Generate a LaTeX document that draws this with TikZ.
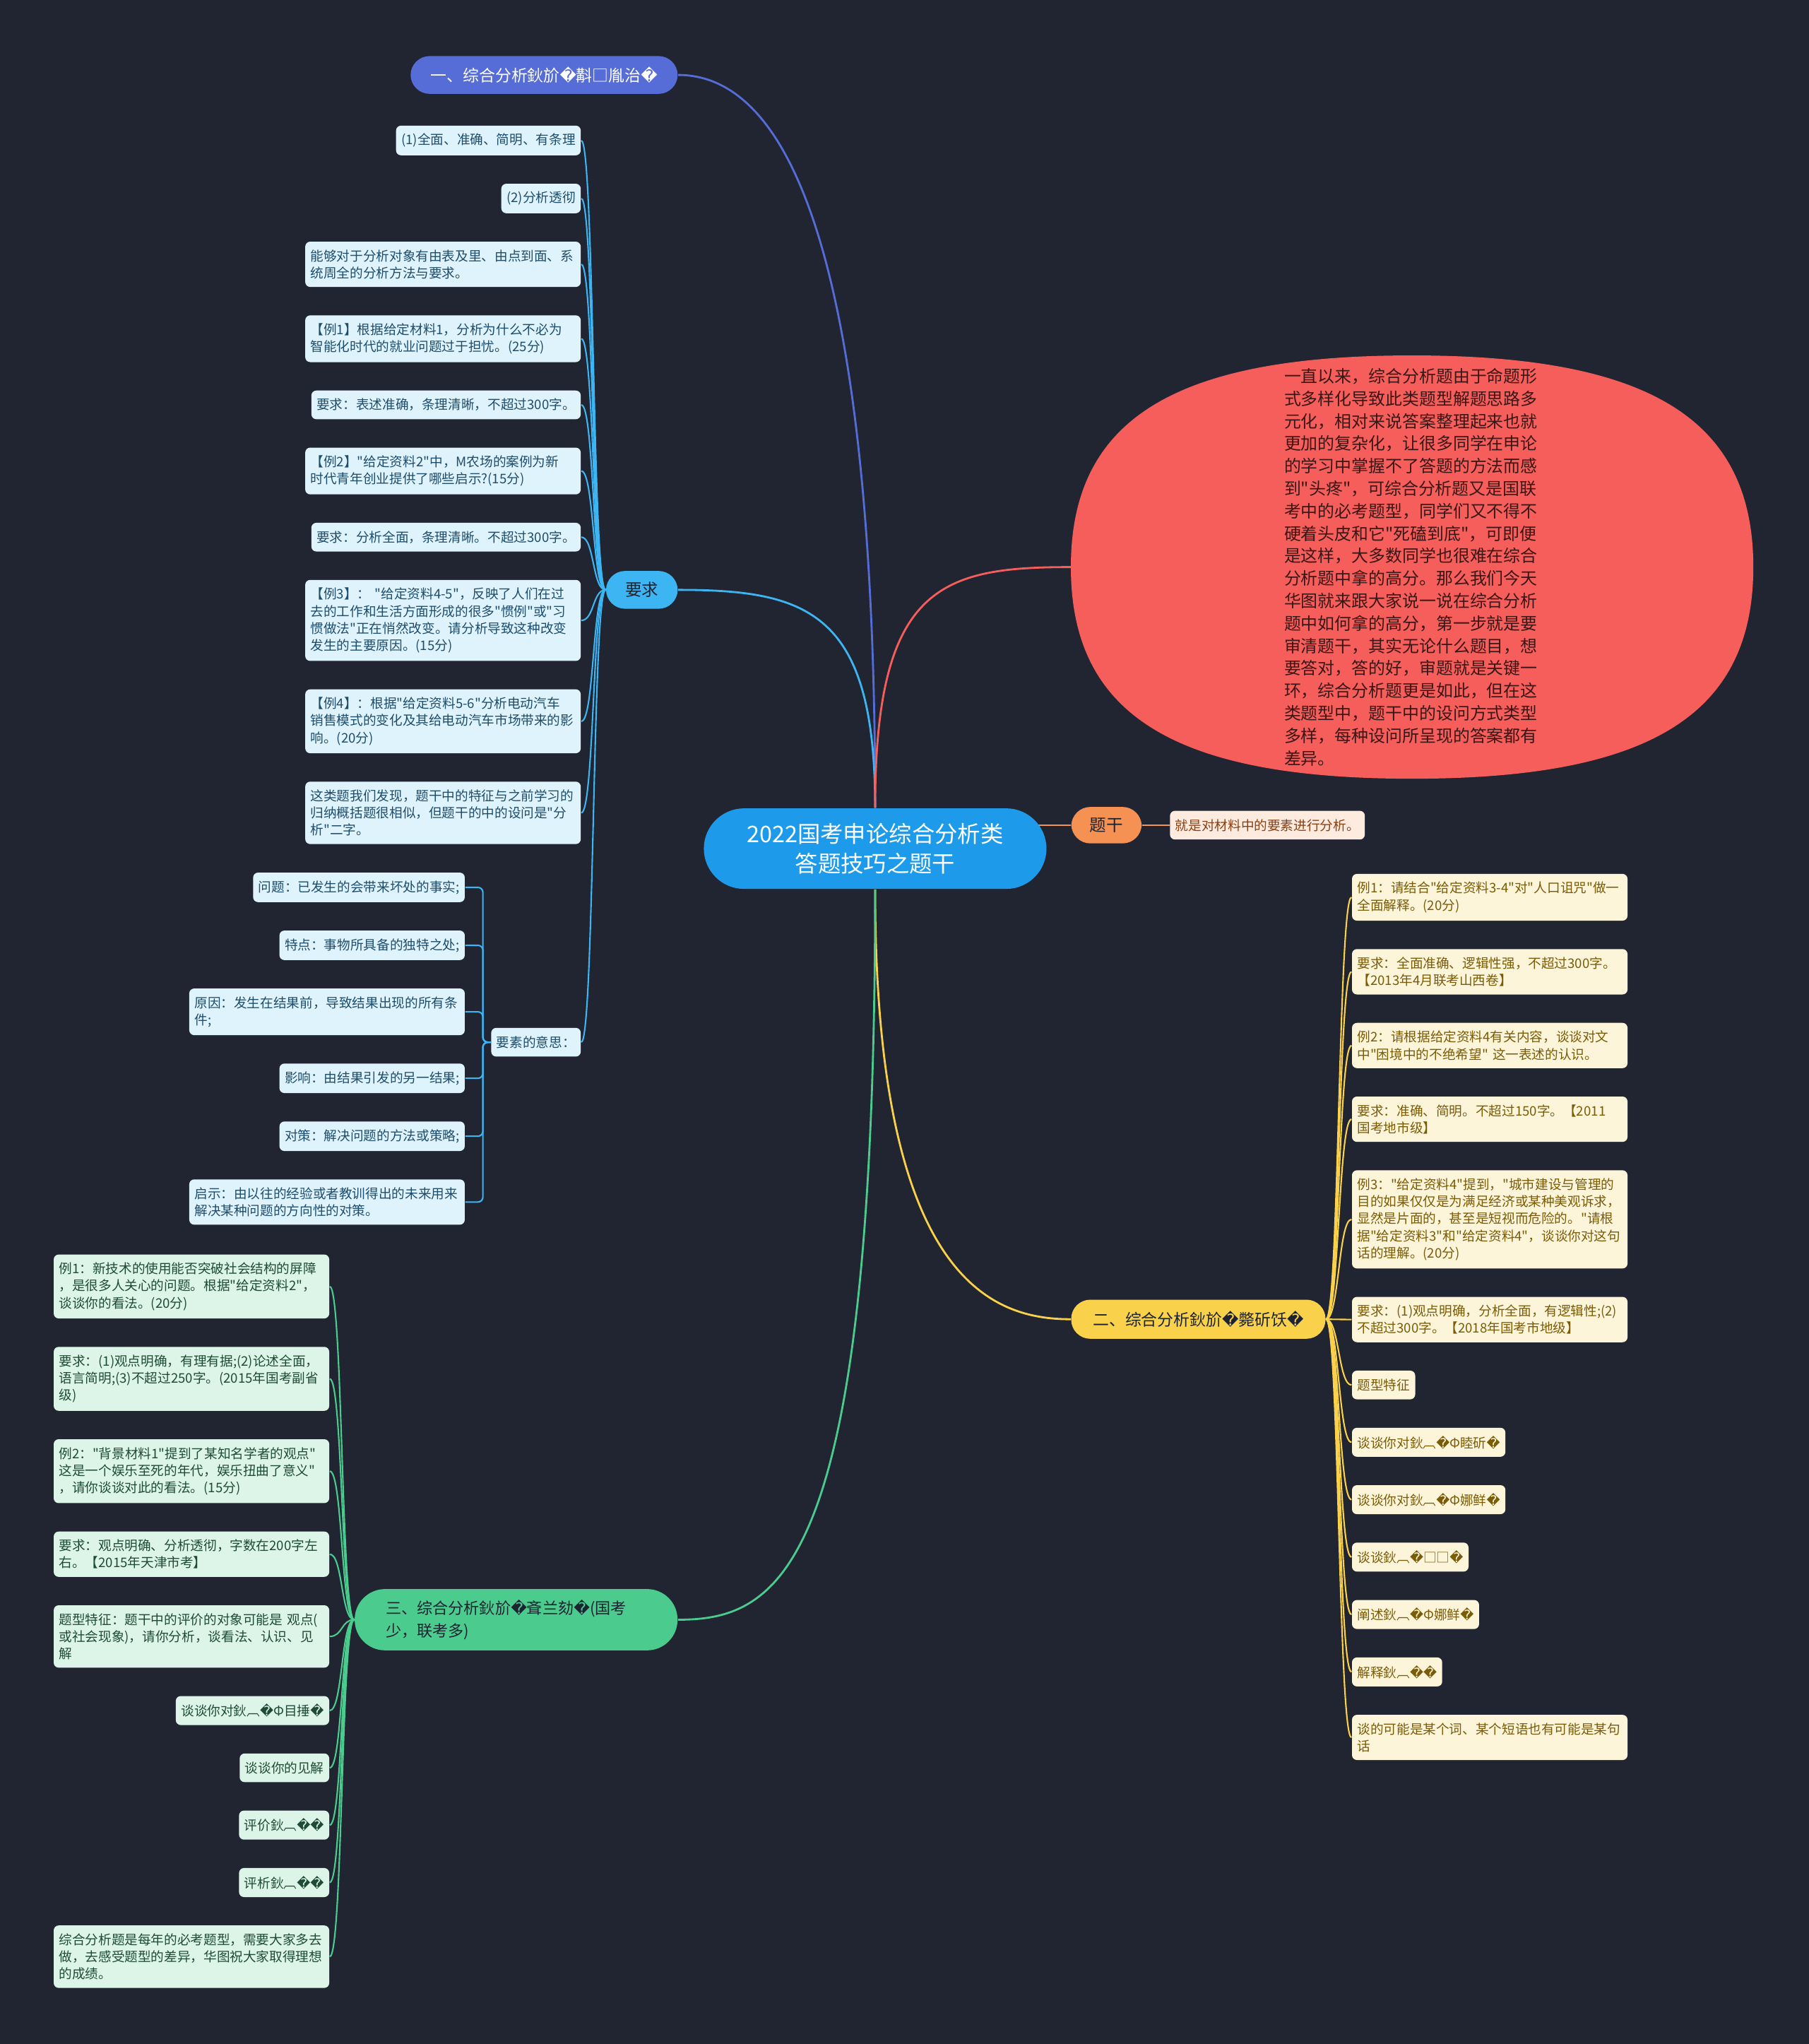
\documentclass[tikz,border=0pt]{standalone}
\usepackage{fontspec}
\setmainfont{Noto Sans CJK SC}[Ligatures=TeXOff]
\newfontfamily\djvfont{DejaVu Sans}
\newcommand{\badch}{{\djvfont\symbol{"FFFD}}}
\exhyphenpenalty=10000
\usetikzlibrary{positioning, backgrounds}
\definecolor{mmbg}{HTML}{212532}
\definecolor{mmroot}{HTML}{1D9BEA}
\definecolor{mmindigo}{HTML}{566CD6}
\definecolor{mmsky}{HTML}{3DB5F2}
\definecolor{mmskyfill}{HTML}{DEF3FC}
\definecolor{mmskytext}{HTML}{1E4D6B}
\definecolor{mmred}{HTML}{F55E5A}
\definecolor{mmredtext}{HTML}{3A1616}
\definecolor{mmorange}{HTML}{F59152}
\definecolor{mmpeach}{HTML}{FDEBDF}
\definecolor{mmpeachtext}{HTML}{8A3F10}
\definecolor{mmyellow}{HTML}{F9D14A}
\definecolor{mmcream}{HTML}{FDF5DA}
\definecolor{mmcreamtext}{HTML}{7A5B06}
\definecolor{mmgreen}{HTML}{4CCB8E}
\definecolor{mmmint}{HTML}{DCF5E8}
\definecolor{mmminttext}{HTML}{1F4B35}
\definecolor{mmdark}{HTML}{1B2430}

\begin{document}
\begin{tikzpicture}[
    x=0.018444cm, y=-0.018444cm,
    pill/.style={rectangle, rounded corners=0.27cm, fill=#1, minimum height=0.535cm,
                 inner xsep=0.2cm, align=center, font=\fontsize{6.5}{8.5}\selectfont},
    item/.style={rectangle, rounded corners=2pt, fill=#1, inner xsep=0.075cm, inner ysep=3.2pt,
                 minimum height=0.406cm, align=left, font=\fontsize{5.3}{6.9}\selectfont},
    skyitem/.style={item=mmskyfill, text=mmskytext},
    creamitem/.style={item=mmcream, text=mmcreamtext},
    mintitem/.style={item=mmmint, text=mmminttext},
    wide/.style={text width=3.75cm},
    stackl/.style={below=0.388cm of #1.south east, anchor=north east},
    stackr/.style={below=0.388cm of #1.south west, anchor=north west},
    link/.style={draw=#1, line width=0.8pt},
    twig/.style={draw=#1, line width=0.6pt}
  ]
    \useasboundingbox (0,0) rectangle (1388,1568);
    \begin{scope}[on background layer]
      \fill[mmbg] (0,0) rectangle (1388,1568);
    \end{scope}

    \node[rectangle, rounded corners=0.57cm, fill=mmroot, text=white, minimum width=4.85cm,
          minimum height=1.14cm, align=center, font=\fontsize{9.2}{12}\selectfont]
          (root) at (671.5,651) {2022国考申论综合分析类\\答题技巧之题干};
    \node[pill=mmindigo, text=white, minimum width=3.78cm] (sec1) at (417.5,57.5)
          {一、综合分析鈥斺\badch 斠□胤治\badch};
    \node[pill=mmsky, text=mmdark, minimum width=1.014cm, font=\fontsize{6.7}{8}\selectfont]
          (req) at (492.5,452.5) {要求};
    \node[rectangle, text=mmredtext, minimum width=9.646cm, minimum height=5.976cm,
          text width=3.62cm, align=left, font=\fontsize{6.8}{9.05}\selectfont]
          (intro) at (1083.5,435) {一直以来，综合分析题由于命题形\\
          式多样化导致此类题型解题思路多\\
          元化，相对来说答案整理起来也就\\
          更加的复杂化，让很多同学在申论\\
          的学习中掌握不了答题的方法而感\\
          到"头疼"，可综合分析题又是国联\\
          考中的必考题型，同学们又不得不\\
          硬着头皮和它"死磕到底"，可即便\\
          是这样，大多数同学也很难在综合\\
          分析题中拿的高分。那么我们今天\\
          华图就来跟大家说一说在综合分析\\
          题中如何拿的高分，第一步就是要\\
          审清题干，其实无论什么题目，想\\
          要答对，答的好，审题就是关键一\\
          环，综合分析题更是如此，但在这\\
          类题型中，题干中的设问方式类型\\
          多样，每种设问所呈现的答案都有\\
          差异。};
    \node[pill=mmorange, text=mmdark, minimum width=0.996cm, minimum height=0.516cm,
          font=\fontsize{6.7}{8}\selectfont] (stem) at (849,633) {题干};
    \node[item=mmpeach, text=mmpeachtext, right=0.387cm of stem] (stemnote) {就是对材料中的要素进行分析。};
    \node[pill=mmyellow, text=mmdark, minimum width=3.6cm, minimum height=0.553cm]
          (sec2) at (919.5,1012) {二、综合分析鈥斺\badch 斃斫饫\badch};
    \node[pill=mmgreen, text=mmdark, rounded corners=0.43cm, minimum height=0.867cm,
          text width=3.69cm, inner xsep=0.44cm, align=left, font=\fontsize{6.3}{8.9}\selectfont]
          (sec3) at (396,1242.5) {三、综合分析鈥斺\badch 斊兰劾\badch(国考\\少，联考多)};

    \node[skyitem, anchor=north east] (r1) at (446,96) {(1)全面、准确、简明、有条理};
    \node[skyitem, stackl=r1] (r2) {(2)分析透彻};
    \node[skyitem, wide, stackl=r2] (r3) {能够对于分析对象有由表及里、由点到面、系\\统周全的分析方法与要求。};
    \node[skyitem, wide, stackl=r3] (r4) {【例1】根据给定材料1，分析为什么不必为\\智能化时代的就业问题过于担忧。(25分)};
    \node[skyitem, stackl=r4] (r5) {要求：表述准确，条理清晰，不超过300字。};
    \node[skyitem, wide, stackl=r5] (r6) {【例2】"给定资料2"中，M农场的案例为新\\时代青年创业提供了哪些启示?(15分)};
    \node[skyitem, stackl=r6] (r7) {要求：分析全面，条理清晰。不超过300字。};
    \node[skyitem, wide, stackl=r7] (r8) {【例3】：~"给定资料4-5"，反映了人们在过\\去的工作和生活方面形成的很多"惯例"或"习\\惯做法"正在悄然改变。请分析导致这种改变\\发生的主要原因。(15分)};
    \node[skyitem, wide, stackl=r8] (r9) {【例4】：根据"给定资料5-6"分析电动汽车\\销售模式的变化及其给电动汽车市场带来的影\\响。(20分)};
    \node[skyitem, wide, stackl=r9] (r10) {这类题我们发现，题干中的特征与之前学习的\\归纳概括题很相似，但题干的中的设问是"分\\析"二字。};
    \node[skyitem, anchor=east] (ys) at (446,799.5) {要素的意思：};

    \node[skyitem, anchor=north east] (e1) at (357,669) {问题：已发生的会带来坏处的事实;};
    \node[skyitem, stackl=e1] (e2) {特点：事物所具备的独特之处;};
    \node[skyitem, wide, stackl=e2] (e3) {原因：发生在结果前，导致结果出现的所有条\\件;};
    \node[skyitem, stackl=e3] (e4) {影响：由结果引发的另一结果;};
    \node[skyitem, stackl=e4] (e5) {对策：解决问题的方法或策略;};
    \node[skyitem, wide, stackl=e5] (e6) {启示：由以往的经验或者教训得出的未来用来\\解决某种问题的方向性的对策。};

    \node[creamitem, wide, anchor=north west] (y1) at (1037,670) {例1：请结合"给定资料3-4"对"人口诅咒"做一\\全面解释。(20分)};
    \node[creamitem, wide, stackr=y1] (y2) {要求：全面准确、逻辑性强，不超过300字。\\【2013年4月联考山西卷】};
    \node[creamitem, wide, stackr=y2] (y3) {例2：请根据给定资料4有关内容，谈谈对文\\中"困境中的不绝希望"~这一表述的认识。};
    \node[creamitem, wide, stackr=y3] (y4) {要求：准确、简明。不超过150字。【2011\\国考地市级】};
    \node[creamitem, wide, stackr=y4] (y5) {例3："给定资料4"提到，"城市建设与管理的\\目的如果仅仅是为满足经济或某种美观诉求，\\显然是片面的，甚至是短视而危险的。"请根\\据"给定资料3"和"给定资料4"，谈谈你对这句\\话的理解。(20分)};
    \node[creamitem, wide, stackr=y5] (y6) {要求：(1)观点明确，分析全面，有逻辑性;(2)\\不超过300字。【2018年国考市地级】};
    \node[creamitem, stackr=y6] (y7) {题型特征};
    \node[creamitem, stackr=y7] (y8) {谈谈你对鈥︹\badch Φ睦斫\badch};
    \node[creamitem, stackr=y8] (y9) {谈谈你对鈥︹\badch Φ娜鲜\badch};
    \node[creamitem, stackr=y9] (y10) {谈谈鈥︹\badch □□\badch};
    \node[creamitem, stackr=y10] (y11) {阐述鈥︹\badch Φ娜鲜\badch};
    \node[creamitem, stackr=y11] (y12) {解释鈥︹\badch\badch};
    \node[creamitem, wide, stackr=y12] (y13) {谈的可能是某个词、某个短语也有可能是某句\\话};

    \node[mintitem, wide, anchor=north east] (g1) at (253,962) {例1：新技术的使用能否突破社会结构的屏障\\，是很多人关心的问题。根据"给定资料2"，\\谈谈你的看法。(20分)};
    \node[mintitem, wide, stackl=g1] (g2) {要求：(1)观点明确，有理有据;(2)论述全面，\\语言简明;(3)不超过250字。(2015年国考副省\\级)};
    \node[mintitem, wide, stackl=g2] (g3) {例2："背景材料1"提到了某知名学者的观点"\\这是一个娱乐至死的年代，娱乐扭曲了意义"\\，请你谈谈对此的看法。(15分)};
    \node[mintitem, wide, stackl=g3] (g4) {要求：观点明确、分析透彻，字数在200字左\\右。【2015年天津市考】};
    \node[mintitem, wide, stackl=g4] (g5) {题型特征：题干中的评价的对象可能是~观点(\\或社会现象)，请你分析，谈看法、认识、见\\解};
    \node[mintitem, stackl=g5] (g6) {谈谈你对鈥︹\badch Φ目捶\badch};
    \node[mintitem, stackl=g6] (g7) {谈谈你的见解};
    \node[mintitem, stackl=g7] (g8) {评价鈥︹\badch\badch};
    \node[mintitem, stackl=g8] (g9) {评析鈥︹\badch\badch};
    \node[mintitem, wide, stackl=g9] (g10) {综合分析题是每年的必考题型，需要大家多去\\做，去感受题型的差异，华图祝大家取得理想\\的成绩。};

    \begin{scope}[on background layer]
      \fill[mmred] (intro.east) .. controls +(0,-113) and +(183,0) .. (intro.north)
                   .. controls +(-183,0) and +(0,-113) .. (intro.west)
                   .. controls +(0,113) and +(-183,0) .. (intro.south)
                   .. controls +(183,0) and +(0,113) .. (intro.east);

      \draw[link=mmindigo] (root.north) .. controls +(0,-370) and +(100,0) .. (sec1.east);
      \draw[link=mmsky] (root.north) .. controls +(0,-150) and +(100,0) .. (req.east);
      \draw[link=mmred] (root.north) .. controls +(0,-170) and +(-100,0) .. (intro.west);
      \draw[link=mmorange] (root.center |- stem.west) -- (stem.west);
      \draw[link=mmorange] (stem.east) -- (stemnote.west);
      \draw[link=mmyellow] (root.south) .. controls +(0,300) and +(-60,0) .. (sec2.west);
      \draw[link=mmgreen] (root.south) .. controls +(0,520) and +(80,0) .. (sec3.east);

      \draw[twig=mmsky] (req.west) .. controls +(-10,0) and +(10,0) .. (r1.east);
      \draw[twig=mmsky] (req.west) .. controls +(-10,0) and +(10,0) .. (r2.east);
      \draw[twig=mmsky] (req.west) .. controls +(-10,0) and +(10,0) .. (r3.east);
      \draw[twig=mmsky] (req.west) .. controls +(-10,0) and +(10,0) .. (r4.east);
      \draw[twig=mmsky] (req.west) .. controls +(-10,0) and +(10,0) .. (r5.east);
      \draw[twig=mmsky] (req.west) .. controls +(-10,0) and +(10,0) .. (r6.east);
      \draw[twig=mmsky] (req.west) .. controls +(-10,0) and +(10,0) .. (r7.east);
      \draw[twig=mmsky] (req.west) .. controls +(-10,0) and +(10,0) .. (r8.east);
      \draw[twig=mmsky] (req.west) .. controls +(-10,0) and +(10,0) .. (r9.east);
      \draw[twig=mmsky] (req.west) .. controls +(-10,0) and +(10,0) .. (r10.east);
      \draw[twig=mmsky] (req.west) .. controls +(-10,0) and +(10,0) .. (ys.east);

      \draw[twig=mmsky, rounded corners=2pt] (ys.west) -- ++(-6,0) |- (e1.east);
      \draw[twig=mmsky, rounded corners=2pt] (ys.west) -- ++(-6,0) |- (e2.east);
      \draw[twig=mmsky, rounded corners=2pt] (ys.west) -- ++(-6,0) |- (e3.east);
      \draw[twig=mmsky, rounded corners=2pt] (ys.west) -- ++(-6,0) |- (e4.east);
      \draw[twig=mmsky, rounded corners=2pt] (ys.west) -- ++(-6,0) |- (e5.east);
      \draw[twig=mmsky, rounded corners=2pt] (ys.west) -- ++(-6,0) |- (e6.east);

      \draw[twig=mmyellow] (sec2.east) .. controls +(10,0) and +(-10,0) .. (y1.west);
      \draw[twig=mmyellow] (sec2.east) .. controls +(10,0) and +(-10,0) .. (y2.west);
      \draw[twig=mmyellow] (sec2.east) .. controls +(10,0) and +(-10,0) .. (y3.west);
      \draw[twig=mmyellow] (sec2.east) .. controls +(10,0) and +(-10,0) .. (y4.west);
      \draw[twig=mmyellow] (sec2.east) .. controls +(10,0) and +(-10,0) .. (y5.west);
      \draw[twig=mmyellow] (sec2.east) .. controls +(10,0) and +(-10,0) .. (y6.west);
      \draw[twig=mmyellow] (sec2.east) .. controls +(10,0) and +(-10,0) .. (y7.west);
      \draw[twig=mmyellow] (sec2.east) .. controls +(10,0) and +(-10,0) .. (y8.west);
      \draw[twig=mmyellow] (sec2.east) .. controls +(10,0) and +(-10,0) .. (y9.west);
      \draw[twig=mmyellow] (sec2.east) .. controls +(10,0) and +(-10,0) .. (y10.west);
      \draw[twig=mmyellow] (sec2.east) .. controls +(10,0) and +(-10,0) .. (y11.west);
      \draw[twig=mmyellow] (sec2.east) .. controls +(10,0) and +(-10,0) .. (y12.west);
      \draw[twig=mmyellow] (sec2.east) .. controls +(10,0) and +(-10,0) .. (y13.west);

      \draw[twig=mmgreen] (sec3.west) .. controls +(-10,0) and +(10,0) .. (g1.east);
      \draw[twig=mmgreen] (sec3.west) .. controls +(-10,0) and +(10,0) .. (g2.east);
      \draw[twig=mmgreen] (sec3.west) .. controls +(-10,0) and +(10,0) .. (g3.east);
      \draw[twig=mmgreen] (sec3.west) .. controls +(-10,0) and +(10,0) .. (g4.east);
      \draw[twig=mmgreen] (sec3.west) .. controls +(-10,0) and +(10,0) .. (g5.east);
      \draw[twig=mmgreen] (sec3.west) .. controls +(-10,0) and +(10,0) .. (g6.east);
      \draw[twig=mmgreen] (sec3.west) .. controls +(-10,0) and +(10,0) .. (g7.east);
      \draw[twig=mmgreen] (sec3.west) .. controls +(-10,0) and +(10,0) .. (g8.east);
      \draw[twig=mmgreen] (sec3.west) .. controls +(-10,0) and +(10,0) .. (g9.east);
      \draw[twig=mmgreen] (sec3.west) .. controls +(-10,0) and +(10,0) .. (g10.east);
    \end{scope}
  \end{tikzpicture}
\end{document}
